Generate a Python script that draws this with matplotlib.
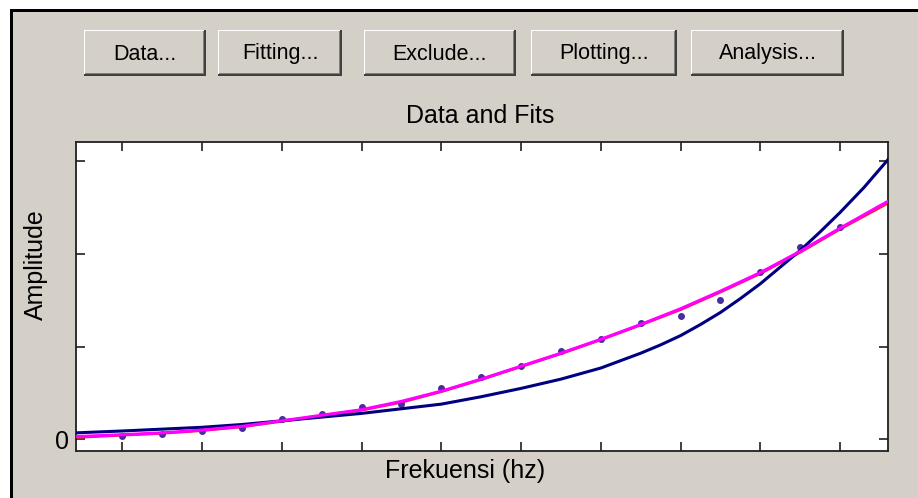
import matplotlib

matplotlib.use("Agg")
import matplotlib.pyplot as plt
from matplotlib.patches import Rectangle

W, H = 918, 498

# sampled fit curves and measured points (x in tick units, y in tick units)
fit_x = [0.42, 1.0, 1.5, 2.0, 2.5, 3.0, 3.5, 4.0, 4.5, 5.0, 5.5,
         6.0, 6.5, 7.0, 7.5, 8.0, 8.5, 9.0, 9.5, 10.0, 10.6]
fit_power = [0.03, 0.05, 0.07, 0.10, 0.14, 0.20, 0.26, 0.32, 0.41, 0.52, 0.65,
             0.79, 0.93, 1.08, 1.24, 1.41, 1.60, 1.80, 2.03, 2.28, 2.57]
fit_red = [0.02, 0.045, 0.065, 0.095, 0.135, 0.195, 0.255, 0.315, 0.40, 0.515, 0.645,
           0.785, 0.925, 1.075, 1.235, 1.40, 1.59, 1.79, 2.02, 2.27, 2.55]

exp_x = [0.42, 1.0, 1.5, 2.0, 2.5, 3.0, 3.5, 4.0, 4.5, 5.0, 5.5, 6.0, 6.5,
         7.0, 7.25, 7.5, 7.75, 8.0, 8.25, 8.5, 8.75, 9.0, 9.25, 9.5, 9.75,
         10.0, 10.3, 10.6]
fit_exp = [0.07, 0.09, 0.11, 0.13, 0.16, 0.20, 0.24, 0.28, 0.33, 0.38, 0.46, 0.55, 0.65,
           0.77, 0.85, 0.93, 1.02, 1.12, 1.24, 1.37, 1.52, 1.68, 1.86, 2.04, 2.24,
           2.45, 2.72, 3.02]

data_x = [1.0, 1.5, 2.0, 2.5, 3.0, 3.5, 4.0, 4.5, 5.0, 5.5,
          6.0, 6.5, 7.0, 7.5, 8.0, 8.5, 9.0, 9.5, 10.0]
data_y = [0.04, 0.06, 0.09, 0.12, 0.22, 0.27, 0.35, 0.38, 0.55, 0.67,
          0.79, 0.95, 1.08, 1.26, 1.33, 1.50, 1.81, 2.08, 2.29]

buttons = ["Data...", "Fitting...", "Exclude...", "Plotting...", "Analysis..."]
button_x = [(84, 206), (218, 342), (364, 516), (531, 677), (691, 844)]

FACE = "#d4d0c8"
FONT = "Liberation Sans"

fig = plt.figure(figsize=(W / 100, H / 100), dpi=100)
fig.patch.set_facecolor("white")


def px(x, y):
    return x / W, 1 - y / H


def box(x0, y0, x1, y1, **kw):
    fx0, fy1 = px(x0, y1)
    r = Rectangle((fx0, fy1), (x1 - x0) / W, (y1 - y0) / H,
                  transform=fig.transFigure, **kw)
    fig.add_artist(r)
    return r


# window frame
box(10, 9, W, H, facecolor=FACE, edgecolor="none", zorder=0)
box(10, 9, W, 12, facecolor="black", edgecolor="none", zorder=1)
box(10, 9, 13, H, facecolor="black", edgecolor="none", zorder=1)

# buttons
by0, by1 = 30, 76
for label, (x0, x1) in zip(buttons, button_x):
    box(x0, by0, x1, by1, facecolor="#404040", edgecolor="none", zorder=2)
    box(x0, by0, x1 - 2, by1 - 2, facecolor="white", edgecolor="none", zorder=3)
    box(x0 + 1, by0 + 1, x1 - 2, by1 - 2, facecolor="#808080", edgecolor="none", zorder=4)
    box(x0 + 1, by0 + 1, x1 - 3, by1 - 3, facecolor=FACE, edgecolor="none", zorder=5)
    fig.text(*px((x0 + x1) / 2, (by0 + by1) / 2 + 1), label, ha="center", va="center",
             fontsize=15.5, family=FONT, zorder=6)

fig.text(*px(480, 116), "Data and Fits", ha="center", va="center",
         fontsize=18, family=FONT)

ax = fig.add_axes([76 / W, 1 - 451 / H, 812 / W, 309 / H])
ax.set_facecolor("white")
ax.plot(fit_x, fit_red, color="#ff2020", lw=2.0, zorder=2)
ax.plot(data_x, data_y, "o", color="#4a2c9e", ms=4, zorder=3)
ax.plot(exp_x, fit_exp, color="#000080", lw=2.2, zorder=4)
ax.plot(fit_x, fit_power, color="#ff00ff", lw=2.2, zorder=5)

ax.set_xlim(0.42, 10.6)
ax.set_ylim(-0.126, 3.21)
ax.set_xticks(range(1, 11))
ax.set_xticklabels([])
ax.set_yticks([0, 1, 2, 3])
ax.set_yticklabels(["0", "", "", ""], fontsize=18, family=FONT)
ax.tick_params(direction="in", length=6.5, width=1.2, top=True, right=True,
               color="#202020", pad=5)
for s in ax.spines.values():
    s.set_linewidth(1.3)
    s.set_color("#202020")

fig.text(*px(465, 471), "Frekuensi (hz)", ha="center", va="center",
         fontsize=18, family=FONT)
fig.text(*px(36, 265), "Amplitude", ha="center", va="center", rotation=90,
         fontsize=18, family=FONT)

fig.savefig("out.png", dpi=100, facecolor=fig.get_facecolor())
